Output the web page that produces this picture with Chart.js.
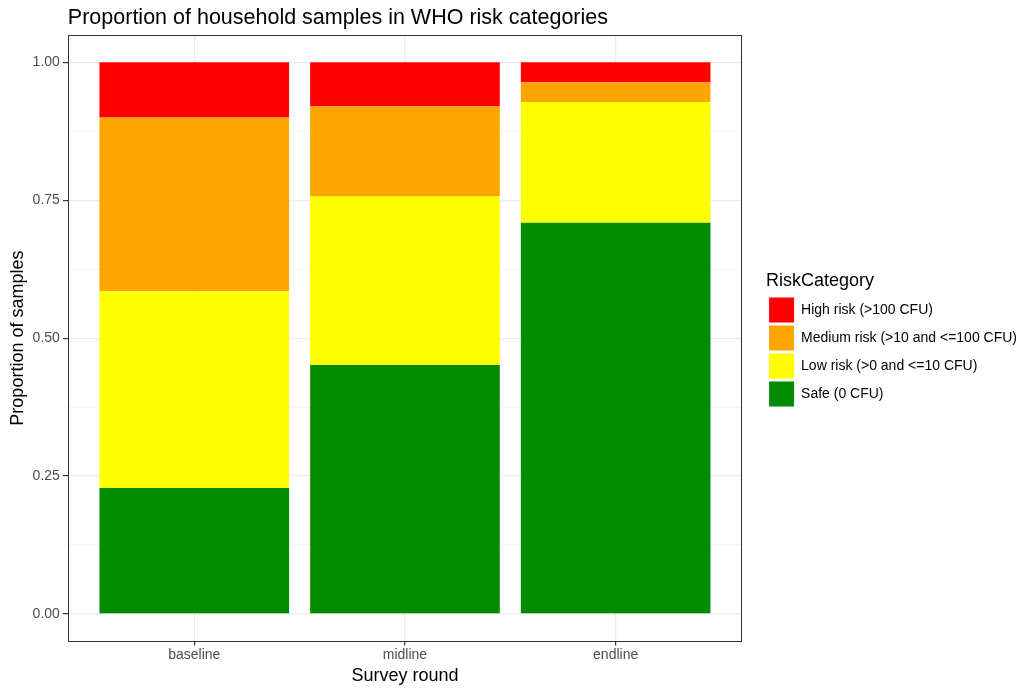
<!DOCTYPE html>
<html>
<head>
<meta charset="utf-8">
<script src="https://cdn.jsdelivr.net/npm/chart.js@4"></script>
<style>
  html, body { margin: 0; padding: 0; background: #ffffff; }
  #wrap { width: 1030px; height: 689px; }
</style>
</head>
<body>
<div id="wrap"><canvas id="riskChart"></canvas></div>
<script>
// survey rounds and proportions (bottom to top in each bar)
var rounds = ['baseline', 'midline', 'endline'];
var safe   = [0.228, 0.451, 0.709];
var low    = [0.357, 0.306, 0.219];
var medium = [0.315, 0.163, 0.036];
var high   = [0.100, 0.080, 0.036];
var yTicks = [0, 0.125, 0.25, 0.375, 0.5, 0.625, 0.75, 0.875, 1];

var FONT = "'Liberation Sans', Arial, sans-serif";

function toPoints(values) {
    return values.map(function(v, i) {
        return { x: i + 1, y: v };
    });
}

function isMajor(v) {
    return Math.abs(v * 4 - Math.round(v * 4)) < 1e-9;
}

// ggplot-like panel border around the plotting area
var panelBorder = {
    id: 'panelBorder',
    afterDatasetsDraw: function(chart) {
        var a = chart.chartArea, ctx = chart.ctx;
        ctx.save();
        ctx.strokeStyle = '#333333';
        ctx.lineWidth = 1;
        ctx.strokeRect(Math.round(a.left) + 0.5, Math.round(a.top) + 0.5,
            Math.round(a.right - a.left) - 1, Math.round(a.bottom - a.top) - 1);
        ctx.restore();
    }
};

var ctx = document.getElementById('riskChart').getContext('2d');
new Chart(ctx, {
    type: 'bar',
    data: {
        datasets: [
            { label: 'Safe (0 CFU)', data: toPoints(safe), backgroundColor: '#008B00' },
            { label: 'Low risk (>0 and <=10 CFU)', data: toPoints(low), backgroundColor: '#FFFF00' },
            { label: 'Medium risk (>10 and <=100 CFU)', data: toPoints(medium), backgroundColor: '#FFA500' },
            { label: 'High risk (>100 CFU)', data: toPoints(high), backgroundColor: '#FF0000' }
        ]
    },
    options: {
        responsive: true,
        maintainAspectRatio: false,
        animation: false,
        datasets: {
            bar: { barPercentage: 0.9, categoryPercentage: 1, borderWidth: 0 }
        },
        layout: { padding: { left: 0, right: 3, top: 0, bottom: 0 } },
        plugins: {
            title: {
                display: true,
                text: 'Proportion of household samples in WHO risk categories',
                align: 'start',
                fullSize: false,
                color: '#000000',
                font: { family: FONT, size: 21.5, weight: 'normal', lineHeight: 1.2 },
                padding: { top: 5, bottom: 4 }
            },
            legend: {
                position: 'right',
                fullSize: false,
                reverse: true,
                maxWidth: 300,
                labels: {
                    boxWidth: 25,
                    boxHeight: 25,
                    padding: 3,
                    color: '#000000',
                    font: { family: FONT, size: 14 }
                },
                title: {
                    display: true,
                    text: 'RiskCategory',
                    position: 'start',
                    color: '#000000',
                    font: { family: FONT, size: 18 },
                    padding: { top: 5, bottom: 1 }
                }
            },
            tooltip: { enabled: false }
        },
        scales: {
            x: {
                type: 'linear',
                min: 0.4,
                max: 3.6,
                offset: false,
                stacked: true,
                afterBuildTicks: function(axis) {
                    axis.ticks = rounds.map(function(r, i) { return { value: i + 1 }; });
                },
                ticks: {
                    autoSkip: false,
                    maxRotation: 0,
                    padding: 3,
                    color: '#4d4d4d',
                    font: { family: FONT, size: 14, lineHeight: 1 },
                    callback: function(v) { return rounds[v - 1]; }
                },
                grid: {
                    offset: false,
                    color: '#ebebeb',
                    lineWidth: 1.2,
                    tickLength: 4,
                    tickColor: '#333333',
                    tickWidth: 1.2
                },
                border: { display: false },
                title: {
                    display: true,
                    text: 'Survey round',
                    color: '#000000',
                    font: { family: FONT, size: 18 },
                    padding: { top: 0, bottom: 2 }
                }
            },
            y: {
                min: -0.05,
                max: 1.05,
                stacked: true,
                afterBuildTicks: function(axis) {
                    axis.ticks = yTicks.map(function(v) { return { value: v }; });
                },
                ticks: {
                    autoSkip: false,
                    padding: 3,
                    color: '#4d4d4d',
                    font: { family: FONT, size: 14 },
                    callback: function(v) { return isMajor(v) ? v.toFixed(2) : ''; }
                },
                grid: {
                    color: '#ebebeb',
                    lineWidth: function(c) { return isMajor(c.tick.value) ? 1.2 : 0.6; },
                    tickLength: 5,
                    tickColor: function(c) { return isMajor(c.tick.value) ? '#333333' : 'rgba(0,0,0,0)'; },
                    tickWidth: 1.2
                },
                border: { display: false },
                title: {
                    display: true,
                    text: 'Proportion of samples',
                    color: '#000000',
                    font: { family: FONT, size: 18 },
                    padding: { top: 7, bottom: 1 }
                }
            },
            pad: {
                type: 'linear',
                position: 'right',
                display: true,
                grid: { display: false },
                ticks: { display: false },
                border: { display: false },
                afterFit: function(scale) { scale.width = 24; }
            }
        }
    },
    plugins: [panelBorder]
});
</script>
</body>
</html>
